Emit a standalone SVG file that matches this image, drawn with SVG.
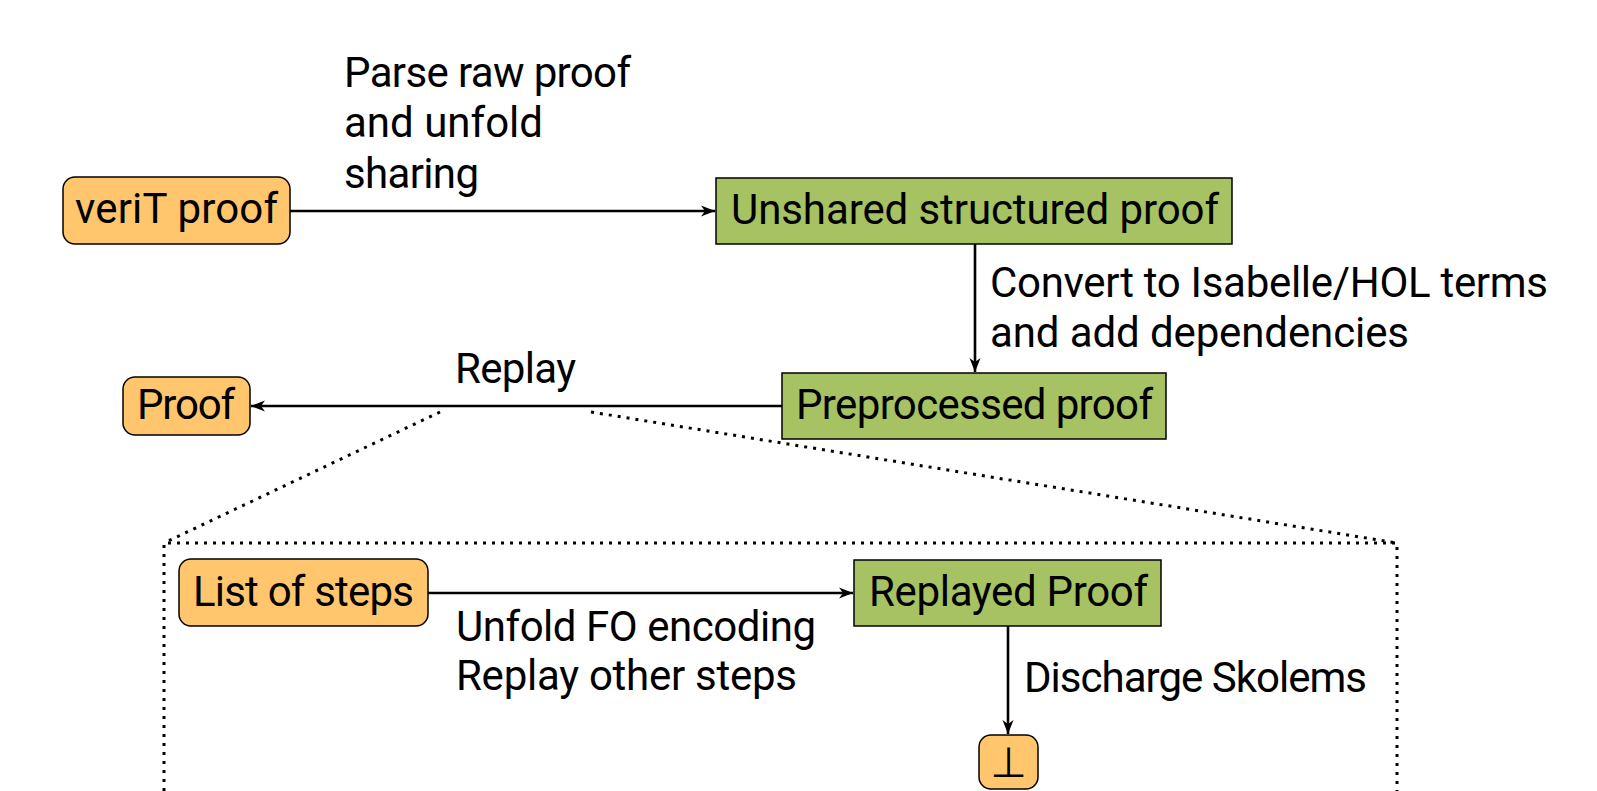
<svg xmlns="http://www.w3.org/2000/svg" width="1597" height="791" viewBox="0 0 1597 791">
<style>
text{font-family:Roboto,"Open Sans","DejaVu Sans",sans-serif;font-size:42px;fill:#000}
.orange{fill:#FFC66E;stroke:#000;stroke-width:1.5}
.green{fill:#A6C262;stroke:#000;stroke-width:1.5}
.edge{stroke:#000;stroke-width:2.6;fill:none;marker-end:url(#arr)}
.dot{stroke:#000;stroke-width:3;fill:none;stroke-dasharray:3 6}
.mid{text-anchor:middle}
</style>
<defs>
<marker id="arr" markerUnits="userSpaceOnUse" markerWidth="16" markerHeight="12" refX="14" refY="6" orient="auto">
<path d="M0,0.5 L14,6 L0,11.5 L4,6 Z" fill="#000"/>
</marker>
</defs>
<rect width="1597" height="791" fill="#fff"/>
<g id="connectors">
<line class="edge" x1="290" y1="211" x2="715" y2="211"/>
<line class="edge" x1="975" y1="244" x2="975" y2="372"/>
<line class="edge" x1="782" y1="406" x2="251" y2="406"/>
<line class="edge" x1="428" y1="593" x2="853" y2="593"/>
<line class="edge" x1="1008" y1="626" x2="1008" y2="734"/>
<path class="dot" d="M440,412 L164,543"/>
<path class="dot" d="M591,412 L1397,543"/>
<path class="dot" d="M164,791 V543 H1397 V791"/>
<text x="344" y="87" textLength="287">Parse raw proof</text>
<text x="344" y="137" textLength="199">and unfold</text>
<text x="344" y="188" textLength="135">sharing</text>
<text x="990" y="297" textLength="558">Convert to Isabelle/HOL terms</text>
<text x="990" y="347" textLength="419">and add dependencies</text>
<text x="455" y="383" textLength="121">Replay</text>
<text x="456" y="641" textLength="360">Unfold FO encoding</text>
<text x="456" y="690" textLength="341">Replay other steps</text>
<text x="1024" y="692" textLength="343">Discharge Skolems</text>
</g>
<g id="veriT">
<rect class="orange" x="63" y="177" width="227" height="67" rx="12"/>
<text x="75" y="223" textLength="203">veriT proof</text>
</g>
<g id="unshared">
<rect class="green" x="716" y="178" width="516" height="66"/>
<text x="731" y="224" textLength="488">Unshared structured proof</text>
</g>
<g id="preprocessed">
<rect class="green" x="782" y="373" width="384" height="66"/>
<text x="796" y="419" textLength="357">Preprocessed proof</text>
</g>
<g id="proof">
<rect class="orange" x="123" y="377" width="127" height="58" rx="12"/>
<text x="137" y="419" textLength="98">Proof</text>
</g>
<g id="steps">
<rect class="orange" x="179" y="559" width="249" height="67" rx="12"/>
<text x="193" y="606" textLength="221">List of steps</text>
</g>
<g id="replayed">
<rect class="green" x="854" y="560" width="307" height="66"/>
<text x="869" y="606" textLength="279">Replayed Proof</text>
</g>
<g id="bottom">
<rect class="orange" x="979" y="735" width="59" height="54" rx="12"/>
<text class="mid" x="1008.5" y="777">⊥</text>
</g>
</svg>
